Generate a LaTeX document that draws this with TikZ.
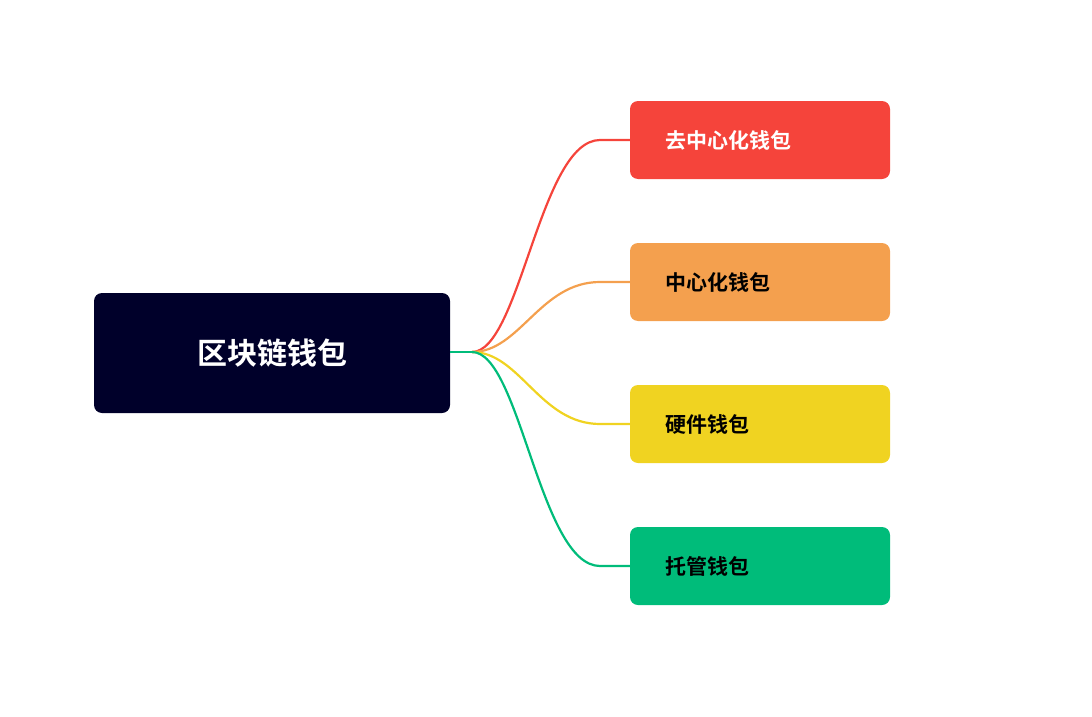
\documentclass[tikz,border=0pt]{standalone}
\usepackage{fontspec}
\newfontfamily\cjk[BoldFont={Noto Sans CJK SC Bold}]{Noto Sans CJK SC}
\definecolor{navy}{HTML}{00002A}
\definecolor{cred}{HTML}{F5443B}
\definecolor{corange}{HTML}{F4A04E}
\definecolor{cyellow}{HTML}{F0D321}
\definecolor{cgreen}{HTML}{00BC7A}
\begin{document}
\begin{tikzpicture}[x=1pt,y=-1pt,
  leaf/.style={rounded corners=8pt,minimum width=260pt,minimum height=78pt,inner sep=0pt},
  lbl/.style={anchor=west,font=\cjk\bfseries\fontsize{21}{24}\selectfont},
  conn/.style={line width=2.2pt}]
\useasboundingbox (0,0) rectangle (1092,717);
\fill[navy,rounded corners=8pt] (94,293) rectangle (450,413);
\node[text=white,font=\cjk\bfseries\fontsize{30}{34}\selectfont] (root) at (272,353) {区块链钱包};
\coordinate (j) at (472,352);
\coordinate (re) at (450,352);
\foreach \n/\y/\c in {a/140/cred,b/282/corange,c/424/cyellow,d/566/cgreen}{
  \node[leaf,fill=\c] (\n) at (760,\y) {};
  \coordinate (\n w) at (600,\y);
  \draw[conn,\c] (j) .. controls (520,352) and (540,\y) .. (\n w) -- (\n.west);
}
\draw[conn,cgreen] (re) -- (j);
\node[lbl,text=white] at (662,140) {去中心化钱包};
\node[lbl] at (662,282) {中心化钱包};
\node[lbl] at (662,424) {硬件钱包};
\node[lbl] at (662,566) {托管钱包};
\end{tikzpicture}
\end{document}
